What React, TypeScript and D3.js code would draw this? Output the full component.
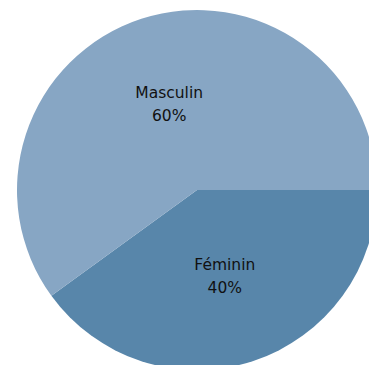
import React from "react";
import * as d3 from "d3";

const categories = ["Féminin", "Masculin"];
const values = [40, 60];
const colors = ["#5886aa", "#87a6c4"];

const W = 369;
const H = 365;
const cx = 197;
const cy = 190;
const R = 180;

export default function App() {
  const pie = d3
    .pie<number>()
    .sort(null)
    .startAngle(Math.PI / 2)
    .endAngle(Math.PI / 2 + 2 * Math.PI);
  const arcs = pie(values);
  const arc = d3.arc<d3.PieArcDatum<number>>().innerRadius(0).outerRadius(R);
  const total = d3.sum(values);
  return (
    <div style={{ position: "absolute", left: 0, top: 0 }}>
      <svg width={W} height={H} style={{ display: "block" }}>
        <rect width={W} height={H} fill="#fff" />
        <g transform={`translate(${cx},${cy})`}>
          {arcs.map((a, i) => (
            <path key={i} d={arc(a) || ""} fill={colors[i]} />
          ))}
          {arcs.map((a, i) => {
            const [x, y] = arc.centroid(a);
            return (
              <text
                key={"t" + i}
                x={x}
                y={y}
                textAnchor="middle"
                fontFamily="DejaVu Sans, Verdana, sans-serif"
                fontSize={15.5}
                fill="#111"
              >
                <tspan x={x} dy={-6}>{categories[i]}</tspan>
                <tspan x={x} dy={23}>{Math.round((values[i] / total) * 100)}%</tspan>
              </text>
            );
          })}
        </g>
      </svg>
    </div>
  );
}
